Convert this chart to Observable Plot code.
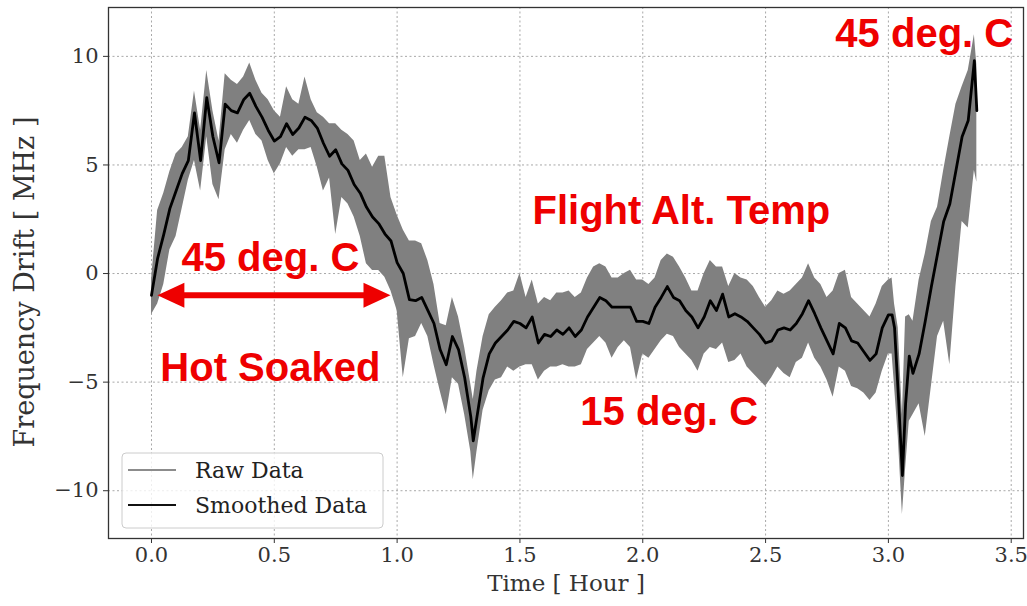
<!DOCTYPE html>
<html>
<head>
<meta charset="utf-8">
<script src="https://cdn.jsdelivr.net/npm/d3@7"></script>
<script src="https://cdn.jsdelivr.net/npm/@observablehq/plot@0.6"></script>
<style>
  html, body { margin: 0; padding: 0; background: #fff; }
  #chart { width: 1027px; height: 606px; overflow: hidden; }
</style>
</head>
<body>
<div id="chart"></div>
<script>
// ---- data ----
const time = [0.000,0.025,0.05,0.075,0.1,0.125,0.15,0.175,0.2,0.225,0.25,0.275,0.3,0.325,0.35,0.375,0.4,0.425,0.45,0.475,0.5,0.525,0.55,0.575,0.6,0.625,0.65,0.675,0.7,0.725,0.75,0.775,0.8,0.825,0.85,0.875,0.9,0.925,0.95,0.975,1.0,1.025,1.05,1.075,1.1,1.125,1.15,1.175,1.2,1.225,1.25,1.275,1.3,1.31,1.325,1.35,1.375,1.4,1.425,1.45,1.475,1.5,1.525,1.55,1.575,1.6,1.625,1.65,1.675,1.7,1.725,1.75,1.775,1.8,1.825,1.85,1.875,1.9,1.925,1.95,1.975,2.0,2.025,2.05,2.075,2.1,2.125,2.15,2.175,2.2,2.225,2.25,2.275,2.3,2.325,2.35,2.375,2.4,2.425,2.45,2.475,2.5,2.525,2.55,2.575,2.6,2.625,2.65,2.675,2.7,2.725,2.75,2.775,2.8,2.825,2.85,2.875,2.9,2.925,2.95,2.975,3.0,3.015,3.025,3.04,3.057,3.07,3.085,3.1,3.125,3.15,3.175,3.2,3.225,3.25,3.275,3.3,3.325,3.35,3.36];
const rawHigh = [-0.3,2.9,3.7,4.7,5.5,5.8,6.3,8.4,6.6,9.35,7.5,6.1,9.2,8.9,8.7,9.05,9.7,8.9,8.3,8.0,7.5,7.2,8.6,8.0,7.8,9.05,8.0,7.4,7.2,6.9,6.9,6.6,6.4,6.1,5.2,5.5,4.9,5.4,5.4,3.5,2.7,2.0,1.5,1.5,1.37,0.6,-0.5,-2.3,-2.4,-1.1,-2.0,-3.4,-5.1,-5.8,-4.5,-2.9,-1.9,-1.55,-1.25,-0.9,-0.8,0.0,-1.1,-0.3,-1.4,-1.1,-1.25,-0.9,-0.9,-0.8,-1.1,-0.9,-0.2,0.3,0.45,0.3,-0.2,-0.2,0.0,0.15,-0.3,-0.3,-0.5,-0.2,0.6,0.9,0.75,0.3,-0.2,-0.8,-0.8,0.0,0.6,0.3,0.3,-0.6,0.0,-0.2,-0.3,-0.6,-1.1,-1.55,-1.25,-0.8,-0.95,-0.8,-0.5,-0.2,0.45,-0.2,-0.5,-1.1,-0.8,0.0,0.15,-1.1,-1.4,-1.7,-2.0,-1.4,-0.6,-0.3,-0.2,-1.4,-2.5,-6.5,-2.0,-1.9,-2.2,-0.3,0.9,2.4,3.05,4.75,6.3,7.8,8.6,9.35,11.0,9.6];
const rawLow = [-1.9,-1.4,-0.5,1.1,1.7,3.0,4.3,5.2,3.8,6.3,4.1,3.4,5.7,6.4,6.0,6.6,7.05,6.4,6.1,5.2,4.6,5.05,5.8,5.4,5.7,5.7,5.8,4.9,3.8,4.4,1.8,3.5,3.2,2.6,1.7,0.45,0.14,0.14,-0.17,-0.8,-1.7,-4.8,-3.0,-2.9,-2.3,-2.9,-4.2,-5.4,-6.5,-4.8,-5.1,-6.5,-8.2,-9.5,-8.2,-6.3,-5.4,-4.9,-4.8,-4.3,-4.5,-4.3,-4.2,-4.2,-4.9,-4.5,-4.3,-4.3,-4.2,-4.3,-4.3,-4.2,-3.5,-3.2,-2.9,-3.2,-3.9,-3.4,-3.1,-3.4,-4.9,-3.7,-3.9,-3.5,-3.1,-2.8,-2.9,-3.4,-3.7,-4.0,-4.5,-3.7,-3.4,-3.5,-3.2,-4.1,-4.0,-3.7,-4.3,-4.6,-4.9,-5.2,-4.8,-4.3,-4.6,-4.8,-4.1,-3.9,-3.2,-3.9,-4.3,-4.9,-5.7,-4.3,-4.5,-5.2,-5.3,-5.5,-5.85,-5.5,-4.5,-3.7,-3.7,-5.2,-7.5,-11.1,-9.0,-6.8,-6.5,-6.0,-7.5,-5.2,-2.9,-2.2,-4.2,-0.6,2.4,2.1,4.75,4.2];
const smoothed = [-1.0,0.7,1.8,3.0,3.8,4.6,5.2,7.4,5.2,8.1,6.3,5.1,7.8,7.5,7.4,8.0,8.3,7.7,7.2,6.6,6.1,6.3,6.9,6.4,6.7,7.2,7.05,6.7,6.0,5.4,5.7,5.05,4.75,4.1,3.7,3.06,2.6,2.3,1.83,1.5,0.5,0.0,-1.2,-1.25,-1.1,-1.7,-2.3,-3.5,-4.2,-2.9,-3.5,-4.8,-6.6,-7.7,-6.6,-4.8,-3.7,-3.2,-2.9,-2.6,-2.2,-2.3,-2.5,-2.0,-3.2,-2.8,-2.9,-2.6,-2.8,-2.5,-2.9,-2.6,-2.0,-1.55,-1.1,-1.25,-1.55,-1.55,-1.55,-1.55,-2.2,-2.2,-2.3,-1.55,-1.1,-0.6,-1.1,-1.25,-1.7,-2.0,-2.5,-2.0,-1.25,-1.7,-0.95,-2.0,-1.85,-2.0,-2.2,-2.5,-2.8,-3.2,-3.1,-2.6,-2.5,-2.6,-2.3,-1.85,-1.25,-1.85,-2.5,-3.1,-3.7,-2.3,-2.5,-3.1,-3.2,-3.6,-4.0,-3.7,-2.5,-1.9,-1.9,-2.5,-5.5,-9.3,-6.0,-3.8,-4.6,-3.7,-2.2,-0.6,0.9,2.4,3.2,4.75,6.3,7.05,9.8,7.5];

const xTicks = [0, 0.5, 1.0, 1.5, 2.0, 2.5, 3.0, 3.5];
const yTicks = [-10, -5, 0, 5, 10];

// annotation texts (x in hours, y in MHz at text baseline)
const noteText = ["45 deg. C", "45 deg. C", "Hot Soaked", "Flight Alt. Temp", "15 deg. C"];
const noteX    = [3.146, 0.484, 0.484, 2.157, 2.108];
const noteY    = [10.44, 0.14, -4.97, 2.30, -6.99];
// double arrow (tips) and shaft
const arrowTipX = [0.024, 0.973];
const arrowTipRot = [180, 0];
const arrowY = -1.0;
const shaftX = [0.07, 0.93];

const legendLabels = ["Raw Data", "Smoothed Data"];
const legendColors = ["#8c8c8c", "#111111"];

// ---- build ----
const rows = time.map((t, i) => ({t, hi: rawHigh[i], lo: rawLow[i], sm: smoothed[i]}));
const notes = noteText.map((s, i) => ({s, x: noteX[i], y: noteY[i]}));
const tips = arrowTipX.map((x, i) => ({x, y: arrowY, r: arrowTipRot[i]}));
const shaft = shaftX.map(x => ({x, y: arrowY}));

const RED = "#ee0000";
const headSymbol = {
  draw(ctx) {
    const L = 27, H = 12.5;
    ctx.moveTo(0, 0);
    ctx.lineTo(-L, -H);
    ctx.lineTo(-L, H);
    ctx.closePath();
  }
};
const minus = d => d < 0 ? "\u2212" + Math.abs(d) : String(d);

const chart = Plot.plot({
  width: 1027,
  height: 606,
  marginLeft: 108,
  marginRight: 4,
  marginTop: 7,
  marginBottom: 68,
  style: {fontFamily: "'DejaVu Serif', serif", fontSize: "21px", color: "#333", background: "white"},
  x: {domain: [-0.175, 3.55], ticks: xTicks, tickFormat: d => d.toFixed(1), tickSize: 5, tickPadding: 4, label: null},
  y: {domain: [-12.2, 12.25], ticks: yTicks, tickFormat: minus, tickSize: 5, tickPadding: 5, label: null},
  marks: [
    Plot.gridX(xTicks, {stroke: "#a8a8a8", strokeOpacity: 1, strokeDasharray: "2,2.5"}),
    Plot.gridY(yTicks, {stroke: "#a8a8a8", strokeOpacity: 1, strokeDasharray: "2,2.5"}),
    Plot.areaY(rows, {x: "t", y1: "lo", y2: "hi", fill: "#808080"}),
    Plot.line(rows, {x: "t", y: "sm", stroke: "#000", strokeWidth: 2.8}),
    Plot.line(shaft, {x: "x", y: "y", stroke: RED, strokeWidth: 6, strokeLinecap: "butt"}),
    Plot.dot(tips, {x: "x", y: "y", rotate: "r", symbol: headSymbol, fill: RED, stroke: null}),
    Plot.text(notes, {x: "x", y: "y", text: "s", fill: RED, fontSize: 40, fontWeight: "bold",
      fontFamily: "'Liberation Sans', Arial, sans-serif", lineAnchor: "bottom", textAnchor: "middle"}),
    Plot.frame({stroke: "#333", strokeWidth: 1.3}),
    Plot.text(["Time [ Hour ]"], {frameAnchor: "bottom", dy: 52, fontSize: 23, fill: "#333"}),
    Plot.text(["Frequency Drift [ MHz ]"], {frameAnchor: "left", textAnchor: "middle", dx: -83, dy: 9, rotate: -90, fontSize: 27, fill: "#333"})
  ]
});

// legend (matplotlib-like box, lower left inside axes)
const svg = d3.select(chart);
const lg = svg.append("g").attr("class", "legend").attr("text-anchor", "start");
lg.append("rect").attr("x", 122).attr("y", 453).attr("width", 261).attr("height", 75)
  .attr("rx", 4).attr("fill", "white").attr("fill-opacity", 0.8).attr("stroke", "#cccccc");
legendLabels.forEach((lab, i) => {
  const yy = 470 + i * 35;
  lg.append("line").attr("x1", 128).attr("x2", 176).attr("y1", yy).attr("y2", yy)
    .attr("stroke", legendColors[i]).attr("stroke-width", 2.2);
  lg.append("text").attr("x", 195).attr("y", yy + 8).text(lab)
    .attr("text-anchor", "start")
    .attr("font-family", "'DejaVu Serif', serif").attr("font-size", 22).attr("fill", "#222");
});

document.getElementById("chart").appendChild(chart);
</script>
</body>
</html>
